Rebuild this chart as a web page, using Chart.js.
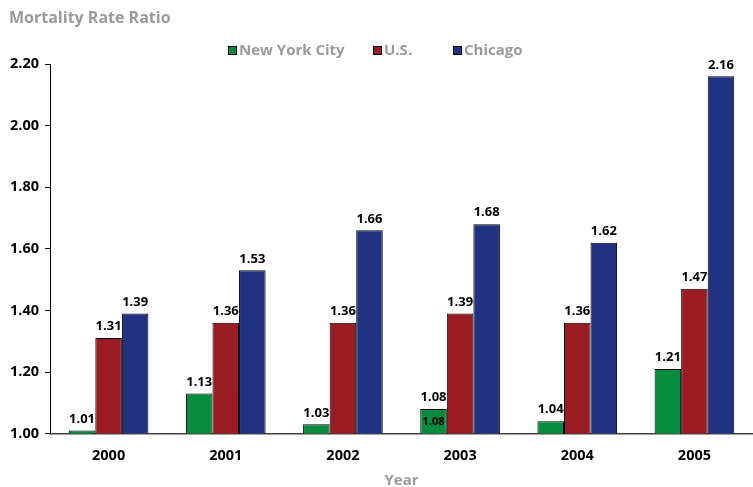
<!DOCTYPE html>
<html>
<head>
<meta charset="utf-8">
<script src="https://cdn.jsdelivr.net/npm/chart.js@4.4.0/dist/chart.umd.min.js"></script>
<style>
    body { margin: 0; background: #fff; }
    #wrap { width: 753px; height: 487px; position: relative; }
</style>
</head>
<body>
<div id="wrap"><canvas id="chart"></canvas></div>
<script>
    // Datos
    const years = ["2000", "2001", "2002", "2003", "2004", "2005"];
    const nyc = [1.01, 1.13, 1.03, 1.08, 1.04, 1.21];
    const us = [1.31, 1.36, 1.36, 1.39, 1.36, 1.47];
    const chicago = [1.39, 1.53, 1.66, 1.68, 1.62, 2.16];
    const yTicks = [1.00, 1.20, 1.40, 1.60, 1.80, 2.00, 2.20];

    const gris = "#9a9a9a";
    const fuente = "'Open Sans', 'Noto Sans', sans-serif";

    // Titulo, leyenda y titulo del eje x dibujados a mano
    const textos = {
        id: "textos",
        afterDraw(chart) {
            const ctx = chart.ctx;
            ctx.save();
            ctx.fillStyle = gris;
            ctx.textBaseline = "middle";
            ctx.textAlign = "left";
            ctx.font = "bold 16px " + fuente;
            ctx.fillText("Mortality Rate Ratio", 9, 18);

            // leyenda
            ctx.font = "bold 15px " + fuente;
            const posiciones = [228, 373, 453];
            chart.data.datasets.forEach((ds, i) => {
                const x = posiciones[i];
                ctx.fillStyle = ds.backgroundColor;
                ctx.fillRect(x, 46, 8, 8);
                ctx.strokeStyle = "#000";
                ctx.lineWidth = 1;
                ctx.strokeRect(x + 0.5, 46.5, 8, 8);
                ctx.fillStyle = gris;
                ctx.fillText(ds.label, x + 11, 51);
            });

            // titulo eje x
            const xs = chart.scales.x;
            ctx.textAlign = "center";
            ctx.fillText("Year", (xs.left + xs.right) / 2, 481);

            // en el original, 2003 NYC repite la etiqueta dentro de la barra
            const j = years.indexOf("2003");
            const bar = chart.getDatasetMeta(0).data[j];
            const ys = chart.scales.y;
            const yMid = (ys.getPixelForValue(nyc[j]) + ys.getPixelForValue(yTicks[0])) / 2;
            ctx.fillStyle = "#000";
            ctx.font = "bold 11px " + fuente;
            ctx.fillText(nyc[j].toFixed(2), bar.x, yMid + 1);
            ctx.restore();
        }
    };

    // Etiquetas de valor sobre cada barra
    const etiquetas = {
        id: "etiquetas",
        afterDatasetsDraw(chart) {
            const ctx = chart.ctx;
            ctx.save();
            ctx.fillStyle = "#000";
            ctx.textAlign = "center";
            ctx.textBaseline = "bottom";
            ctx.font = "bold 13px " + fuente;
            chart.data.datasets.forEach((ds, i) => {
                const meta = chart.getDatasetMeta(i);
                meta.data.forEach((bar, j) => {
                    ctx.fillText(ds.data[j].toFixed(2), bar.x, bar.y - 5);
                });
            });
            ctx.restore();
        }
    };

    new Chart(document.getElementById("chart"), {
        type: "bar",
        data: {
            labels: years,
            datasets: [
                { label: "New York City", data: nyc, backgroundColor: "#078c3f" },
                { label: "U.S.", data: us, backgroundColor: "#9a1b21" },
                { label: "Chicago", data: chicago, backgroundColor: "#223282" }
            ].map(d => Object.assign(d, {
                borderColor: "#000",
                borderWidth: 1,
                borderSkipped: "bottom",
                categoryPercentage: 0.68,
                barPercentage: 1.0
            }))
        },
        options: {
            responsive: true,
            maintainAspectRatio: false,
            animation: false,
            layout: { padding: { left: 4, right: 0, top: 64, bottom: 16 } },
            plugins: {
                title: { display: false },
                legend: { display: false },
                tooltip: { enabled: false }
            },
            scales: {
                x: {
                    grid: { display: false },
                    border: { color: "#444", width: 1.5 },
                    ticks: {
                        color: "#000",
                        font: { family: fuente, size: 14.5, weight: "bold" },
                        padding: 6
                    }
                },
                y: {
                    min: yTicks[0],
                    max: yTicks[yTicks.length - 1],
                    afterBuildTicks(axis) {
                        axis.ticks = yTicks.map(v => ({ value: v }));
                    },
                    grid: { drawOnChartArea: false, drawTicks: true, tickLength: 5, color: "#000" },
                    border: { color: "#000", width: 1 },
                    ticks: {
                        color: "#000",
                        font: { family: fuente, size: 14.5, weight: "bold" },
                        padding: 6,
                        callback: v => Number(v).toFixed(2)
                    }
                }
            }
        },
        plugins: [etiquetas, textos]
    });
</script>
</body>
</html>
